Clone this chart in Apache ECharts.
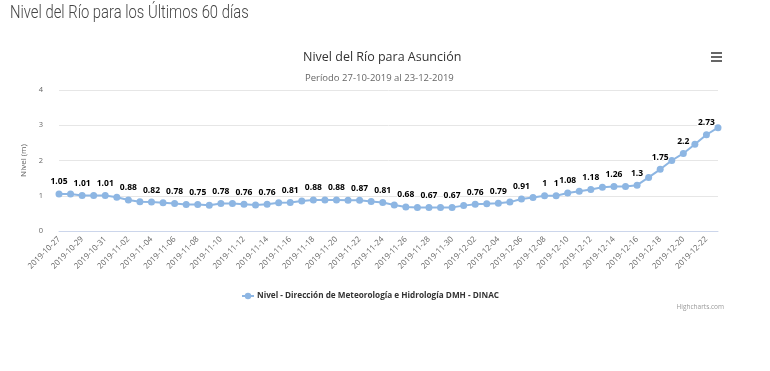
<!DOCTYPE html>
<html>
<head>
<meta charset="utf-8">
<script src="https://cdn.jsdelivr.net/npm/echarts@6/dist/echarts.min.js"></script>
<style>
html,body{margin:0;padding:0;background:#fff;}
#chart{width:770px;height:371px;}
</style>
</head>
<body>
<div id="chart"></div>
<script>
const pageTitle = 'Nivel del Río para los Últimos 60 días';
const chartTitle = 'Nivel del Río para Asunción';
const chartSubtitle = 'Período 27-10-2019 al 23-12-2019';
const seriesName = 'Nivel - Dirección de Meteorología e Hidrología DMH - DINAC';
const yAxisName = 'Nivel (m)';
const yTicks = [0, 1, 2, 3, 4];
const dates = [
  '2019-10-27','2019-10-28','2019-10-29','2019-10-30','2019-10-31',
  '2019-11-01','2019-11-02','2019-11-03','2019-11-04','2019-11-05',
  '2019-11-06','2019-11-07','2019-11-08','2019-11-09','2019-11-10',
  '2019-11-11','2019-11-12','2019-11-13','2019-11-14','2019-11-15',
  '2019-11-16','2019-11-17','2019-11-18','2019-11-19','2019-11-20',
  '2019-11-21','2019-11-22','2019-11-23','2019-11-24','2019-11-25',
  '2019-11-26','2019-11-27','2019-11-28','2019-11-29','2019-11-30',
  '2019-12-01','2019-12-02','2019-12-03','2019-12-04','2019-12-05',
  '2019-12-06','2019-12-07','2019-12-08','2019-12-09','2019-12-10',
  '2019-12-11','2019-12-12','2019-12-13','2019-12-14','2019-12-15',
  '2019-12-16','2019-12-17','2019-12-18','2019-12-19','2019-12-20',
  '2019-12-21','2019-12-22','2019-12-23'
];
const nivel = [
  1.05,1.05,1.01,1.01,1.01,
  0.96,0.88,0.83,0.82,0.80,
  0.78,0.75,0.75,0.73,0.78,
  0.78,0.76,0.74,0.76,0.80,
  0.81,0.85,0.88,0.88,0.88,
  0.87,0.87,0.84,0.81,0.74,
  0.68,0.67,0.67,0.67,0.67,
  0.72,0.76,0.77,0.79,0.82,
  0.91,0.95,1,1,1.08,
  1.13,1.18,1.24,1.26,1.26,
  1.3,1.52,1.75,2.0,2.2,
  2.46,2.73,2.93
];
const extraLabelledDates = ['2019-12-09'];

const chart = echarts.init(document.getElementById('chart'), null, {renderer: 'canvas'});
const font = '"Open Sans", "DejaVu Sans", sans-serif';
chart.setOption({
  backgroundColor: '#fff',
  animation: false,
  textStyle: {fontFamily: font},
  title: [
    {text: chartTitle, left: 298, top: 46,
     textStyle: {fontFamily: font, fontSize: 12.5, fontWeight: 'normal', color: '#333'}},
    {text: chartSubtitle, left: 300, top: 68,
     textStyle: {fontFamily: font, fontSize: 9.5, fontWeight: 'normal', color: '#666'}}
  ],
  graphic: [
    {type: 'text', left: 10, top: 4, scaleX: 0.8,
     style: {text: pageTitle, fontFamily: '"Roboto","Open Sans",sans-serif', fontSize: 18.5, fontWeight: 300, fill: '#444'}},
    {type: 'rect', left: 711, top: 52, shape: {width: 11, height: 2}, style: {fill: '#666'}},
    {type: 'rect', left: 711, top: 56, shape: {width: 11, height: 2}, style: {fill: '#666'}},
    {type: 'rect', left: 711, top: 60, shape: {width: 11, height: 2}, style: {fill: '#666'}},
    {type: 'text', right: 46, top: 304, style: {text: 'Highcharts.com', fontFamily: font, fontSize: 6.5, fill: '#999'}}
  ],
  legend: {
    left: 236, top: 287,
    itemWidth: 12, itemHeight: 8, itemGap: 10,
    textStyle: {fontFamily: font, fontSize: 8.2, fontWeight: 'bold', color: '#333', padding: [0, 0, 0, -2]},
    data: [seriesName]
  },
  grid: {left: 59, right: 52, top: 90, bottom: 140, containLabel: false},
  xAxis: {
    type: 'category',
    data: dates,
    boundaryGap: false,
    axisLine: {lineStyle: {color: '#ccd6eb'}},
    axisTick: {show: false},
    axisLabel: {rotate: 45, interval: 1, fontSize: 8, color: '#666', margin: 7, fontFamily: font},
    splitLine: {show: false}
  },
  yAxis: {
    type: 'value',
    min: yTicks[0], max: yTicks[yTicks.length - 1], interval: 1,
    name: yAxisName,
    nameLocation: 'middle',
    nameGap: 27,
    nameTextStyle: {fontSize: 8, color: '#666', fontFamily: font},
    axisLine: {show: false},
    axisTick: {show: false},
    axisLabel: {fontSize: 7.5, color: '#666', margin: 16, fontFamily: font},
    splitLine: {lineStyle: {color: '#e6e6e6', width: 1}}
  },
  series: [{
    name: seriesName,
    type: 'line',
    data: nivel,
    symbol: 'circle',
    symbolSize: 7,
    showAllSymbol: true,
    lineStyle: {color: '#8db6e3', width: 2},
    itemStyle: {color: '#8db6e3'},
    label: {
      show: true,
      position: 'top',
      distance: 4,
      fontFamily: font,
      fontSize: 8.5,
      fontWeight: 'bold',
      color: '#000',
      textBorderColor: '#fff',
      textBorderWidth: 2,
      formatter: function (p) {
        const d = dates[p.dataIndex];
        if (p.dataIndex % 2 === 0 || extraLabelledDates.indexOf(d) >= 0) {
          return String(p.value);
        }
        return '';
      }
    }
  }]
});
</script>
</body>
</html>
